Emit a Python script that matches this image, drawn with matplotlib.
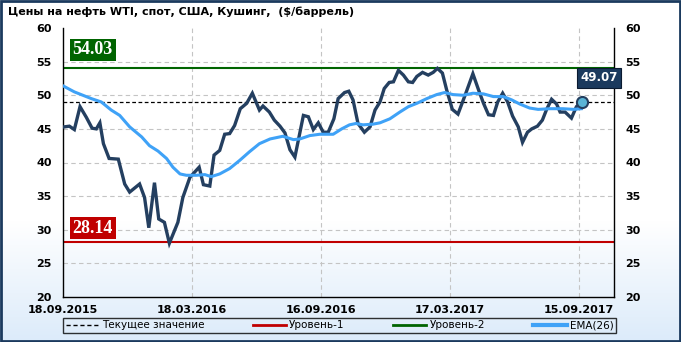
import numpy as np
import matplotlib
matplotlib.use("Agg")
from matplotlib import pyplot as plt
from matplotlib.lines import Line2D
from matplotlib.patches import Rectangle
import matplotlib.colors as colors

# --- data ---
start_date = np.datetime64("2015-09-18")

wti_days = [2, 9, 16, 24, 33, 41, 47, 52, 57, 65, 78, 87, 94, 108, 115, 121, 129, 135,
            143, 150, 162, 169, 179, 192, 198, 207, 213, 221, 228, 235, 242, 250, 259,
            267, 277, 282, 291, 298, 306, 313, 320, 327, 339, 346, 353, 360, 367, 374,
            382, 388, 397, 403, 409, 416, 425, 433, 440, 447, 453, 460, 466, 473, 480,
            487, 493, 499, 507, 515, 522, 528, 535, 541, 549, 557, 567, 578, 586, 593,
            600, 607, 613, 620, 627, 634, 642, 648, 655, 661, 669, 676, 682, 689, 696,
            701, 708, 717, 724, 732]
wti_vals = [45.3, 45.4, 44.9, 48.3, 46.7, 45.1, 45.0, 45.9, 42.8, 40.6, 40.5, 36.8, 35.6,
            36.8, 34.8, 30.3, 37.0, 31.6, 31.1, 28.0, 31.1, 34.8, 37.8, 39.3, 36.7, 36.5,
            41.1, 41.8, 44.2, 44.3, 45.5, 48.0, 48.8, 50.3, 47.8, 48.4, 47.5, 46.3, 45.4,
            44.4, 41.9, 40.8, 47.0, 46.8, 44.9, 45.9, 44.5, 44.5, 46.5, 49.5, 50.4, 50.6,
            49.3, 45.8, 44.5, 45.3, 47.8, 49.0, 51.0, 51.9, 52.0, 53.7, 53.0, 52.0, 51.9,
            52.8, 53.4, 53.0, 53.4, 54.0, 53.3, 50.8, 47.9, 47.2, 50.0, 53.2, 50.8, 48.8,
            47.1, 47.0, 49.0, 50.3, 49.0, 46.9, 45.3, 43.0, 44.5, 45.0, 45.4, 46.3, 47.9,
            49.4, 48.7, 47.5, 47.5, 46.6, 48.3, 49.07]

ema_days = [0, 16, 28, 40, 54, 68, 80, 94, 111, 122, 134, 146, 155, 165, 174, 188, 200,
            209, 221, 235, 249, 263, 277, 292, 310, 325, 334, 348, 362, 381, 393, 404,
            413, 423, 437, 447, 461, 475, 487, 499, 513, 527, 538, 550, 564, 578, 593,
            607, 621, 633, 644, 658, 670, 687, 705, 720, 731]
ema_vals = [51.4, 50.5, 50.0, 49.5, 49.0, 47.8, 47.0, 45.3, 43.8, 42.5, 41.7, 40.6, 39.3,
            38.3, 38.1, 38.1, 38.2, 37.9, 38.3, 39.1, 40.3, 41.6, 42.8, 43.5, 43.9, 43.4,
            43.5, 44.0, 44.2, 44.2, 45.0, 45.6, 45.8, 45.6, 45.7, 45.9, 46.5, 47.5, 48.3,
            48.8, 49.5, 50.1, 50.4, 50.1, 50.0, 50.3, 50.2, 49.8, 49.8, 49.3, 48.7, 48.1,
            47.9, 48.0, 48.0, 47.9, 48.0]

level_1 = 28.14
level_2 = 54.03
current_value = 49.07

tick_days = [0, 182, 364, 546, 728]
tick_labels = ["18.09.2015", "18.03.2016", "16.09.2016", "17.03.2017", "15.09.2017"]

title = "Цены на нефть WTI, спот, США, Кушинг,  ($/баррель)"

# --- colours ---
wti_color = "#243f60"
ema_color = "#3fa2f7"
red_color = "#c00000"
green_color = "#006400"

wti_dates = start_date + np.array(wti_days).astype("timedelta64[D]")
ema_dates = start_date + np.array(ema_days).astype("timedelta64[D]")
tick_dates = start_date + np.array(tick_days).astype("timedelta64[D]")

fig = plt.figure(figsize=(6.81, 3.42), dpi=100)

# background gradient (white at top -> light blue at bottom)
bg = fig.add_axes([0, 0, 1, 1], zorder=-10)
grad = np.ones((342, 1))
grad[220:, 0] = np.linspace(1, 0, 342 - 220)
cmap_bg = colors.LinearSegmentedColormap.from_list("bg", ["#dcebfa", "#ffffff"])
bg.imshow(grad, aspect="auto", cmap=cmap_bg, extent=[0, 1, 0, 1])
bg.axis("off")

ax = fig.add_axes([63 / 681, 45 / 342, 551 / 681, 269 / 342])
ax.patch.set_alpha(0)

ax.set_ylim(20, 60)
ax.set_xlim(start_date, start_date + np.timedelta64(777, "D"))
ax.set_yticks(np.arange(20, 61, 5))
ax.set_xticks(tick_dates)
ax.set_xticklabels(tick_labels)

ax.tick_params(axis="both", length=0, labelsize=8)
ax.tick_params(axis="y", labelleft=True, labelright=True, pad=8)
ax.tick_params(axis="x", pad=6)
for lbl in ax.get_xticklabels() + ax.get_yticklabels():
    lbl.set_fontweight("bold")
for t in ax.yaxis.get_major_ticks():
    t.label2.set_fontweight("bold")

ax.spines["top"].set_visible(False)
for s in ["left", "right", "bottom"]:
    ax.spines[s].set_color("black")
    ax.spines[s].set_linewidth(1)

# grid
for v in np.arange(25, 60, 5):
    ax.axhline(v, color="#c4c4c4", lw=0.8, ls=(0, (4, 3)), zorder=1)
for d in tick_dates[1:]:
    ax.axvline(d, color="#c4c4c4", lw=0.8, ls=(0, (4, 3)), zorder=1)

# levels
ax.axhline(level_2, color=green_color, lw=1.5, zorder=2)
ax.axhline(level_1, color=red_color, lw=1.5, zorder=2)
ax.axhline(current_value, color="black", lw=0.9, ls=(0, (3, 2)), zorder=2)

ax.text(start_date + np.timedelta64(42, "D"), level_2 + 2.7, f"{level_2:.2f}",
        color="white", fontsize=13, fontweight="bold", family="Liberation Serif",
        ha="center", va="center", zorder=5,
        bbox=dict(boxstyle="square,pad=0.15", fc=green_color, ec="none"))
ax.text(start_date + np.timedelta64(42, "D"), level_1 + 2.1, f"{level_1:.2f}",
        color="white", fontsize=13, fontweight="bold", family="Liberation Serif",
        ha="center", va="center", zorder=5,
        bbox=dict(boxstyle="square,pad=0.15", fc=red_color, ec="none"))

# series
ax.plot(wti_dates, wti_vals, color=wti_color, lw=2.4, zorder=3, solid_joinstyle="miter")
ax.plot(ema_dates, ema_vals, color=ema_color, lw=2.2, zorder=4)
ax.plot(wti_dates[-1], wti_vals[-1], "o", ms=8, mfc="#5ab4d6", mec=wti_color, mew=1.5, zorder=6)

ax.text(start_date + np.timedelta64(756, "D"), 52.6, f"{current_value:.2f}",
        color="white", fontsize=8.5, fontweight="bold", ha="center", va="center",
        zorder=7, clip_on=False,
        bbox=dict(boxstyle="square,pad=0.3", fc="#1b3a5e", ec="#0a1a30", lw=0.8))

fig.text(8 / 681, 1 - 12 / 342, title, fontsize=8, fontweight="bold", va="center", ha="left")

# legend
handles = [
    Line2D([], [], color="black", lw=1, ls=(0, (3, 2))),
    Line2D([], [], color=red_color, lw=2),
    Line2D([], [], color=green_color, lw=2),
    Line2D([], [], color=ema_color, lw=3),
]
labels = ["Текущее значение", "Уровень-1", "Уровень-2", "EMA(26)"]
leg = fig.legend(handles, labels, loc="center", ncol=4, mode="expand",
                 bbox_to_anchor=(63 / 681, 7.5 / 342, 553 / 681, 18 / 342),
                 fontsize=7.5, frameon=True, fancybox=False, edgecolor="black",
                 handlelength=3.2, handletextpad=0.3, borderpad=0.25,
                 columnspacing=2.0, borderaxespad=0)
leg.get_frame().set_linewidth(1)
leg.get_frame().set_facecolor("none")

# outer border
fig.patches.append(Rectangle((0.001, 0.002), 0.997, 0.995, transform=fig.transFigure,
                             fill=False, ec="#1b3a5e", lw=2))

fig.savefig("out.png", dpi=100)
plt.close(fig)
